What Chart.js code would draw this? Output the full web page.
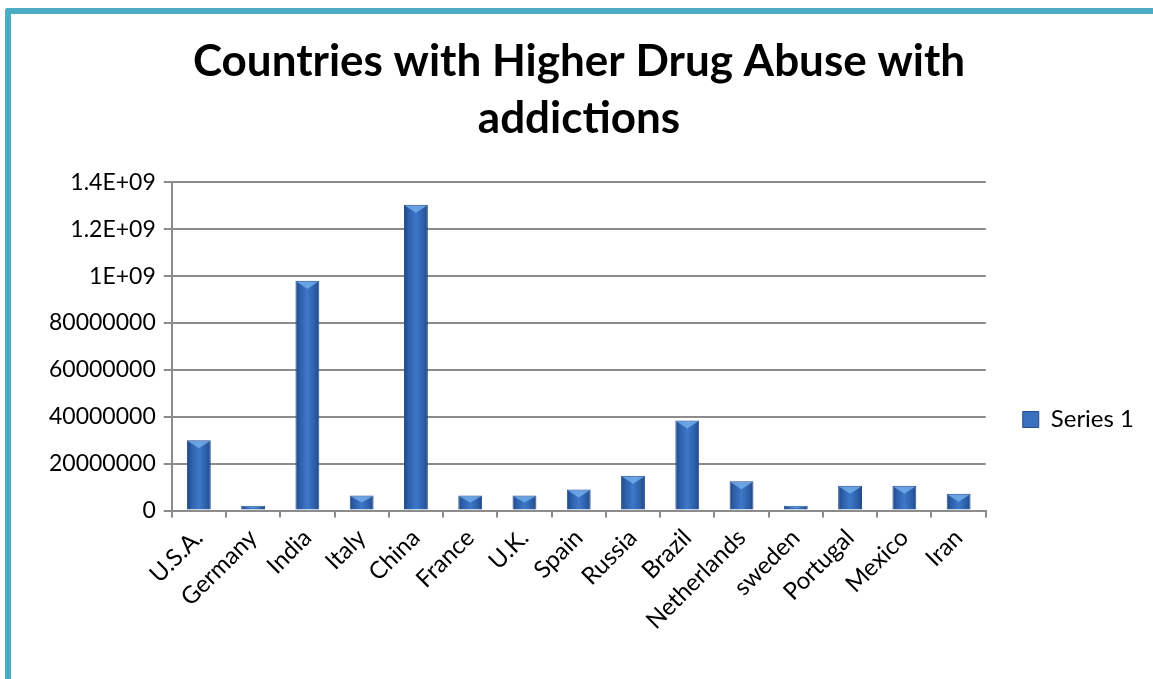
<!DOCTYPE html>
<html>
<head>
<meta charset="utf-8">
<script src="https://cdn.jsdelivr.net/npm/chart.js@4/dist/chart.umd.min.js"></script>
<style>
  html, body { margin: 0; padding: 0; background: #fff; overflow: hidden; }
  body { width: 1153px; height: 679px; position: relative; }
  #frameTop { position: absolute; left: 5px; top: 8px; width: 1148px; height: 6px; background: #4BACC6; border-top-left-radius: 3px; }
  #frameLeft { position: absolute; left: 5px; top: 8px; width: 6px; height: 671px; background: #4BACC6; border-top-left-radius: 3px; }
  #wrap { position: absolute; left: 11px; top: 14px; width: 1142px; height: 665px; }
</style>
</head>
<body>
<div id="frameTop"></div>
<div id="frameLeft"></div>
<div id="wrap"><canvas id="c" width="1142" height="665"></canvas></div>
<script>
const titleLines = ["Countries with Higher Drug Abuse with", "addictions"];
const categories = ["U.S.A.", "Germany", "India", "Italy", "China", "France", "U.K.", "Spain", "Russia", "Brazil", "Netherlands", "sweden", "Portugal", "Mexico", "Iran"];
const seriesName = "Series 1";
const seriesValues = [300000000, 21000000, 980000000, 64000000, 1305000000, 64000000, 64000000, 90000000, 149000000, 384000000, 125000000, 21000000, 106000000, 106000000, 72000000];
const yTickValues = [0, 200000000, 400000000, 600000000, 800000000, 1000000000, 1200000000, 1400000000];
const yTickLabels = ["0", "20000000", "40000000", "60000000", "80000000", "1E+09", "1.2E+09", "1.4E+09"];

const FONT = "Lato, 'Open Sans', sans-serif";

function barFill(ctx) {
  const el = ctx.element;
  const chart = ctx.chart;
  if (!el || el.width === undefined || isNaN(el.x) || !chart.ctx) return '#3A70BE';
  const g = chart.ctx.createLinearGradient(el.x - el.width / 2, 0, el.x + el.width / 2, 0);
  g.addColorStop(0, '#1F4683');
  g.addColorStop(0.18, '#2D5EA8');
  g.addColorStop(0.5, '#3D78C9');
  g.addColorStop(0.82, '#2D5EA8');
  g.addColorStop(1, '#1F4683');
  return g;
}

const topHighlight = {
  id: 'topHighlight',
  afterDatasetsDraw(chart) {
    const meta = chart.getDatasetMeta(0);
    const c = chart.ctx;
    c.save();
    meta.data.forEach(bar => {
      const h = bar.base - bar.y;
      if (h <= 2) return;
      const w = bar.width;
      const d = Math.min(8, h / 2);
      const l = bar.x - w / 2, r = bar.x + w / 2;
      c.fillStyle = 'rgba(120,180,240,0.75)';
      c.beginPath();
      c.moveTo(l + 1, bar.y + 1);
      c.lineTo(r - 1, bar.y + 1);
      c.lineTo(bar.x, bar.y + d);
      c.closePath();
      c.fill();
    });
    c.restore();
  }
};

// nudge the legend block to where the original places it
const legendShift = {
  id: 'legendShift',
  afterLayout(chart) {
    const lg = chart.legend;
    if (!lg) return;
    const dx = 27, dy = 92;
    lg.left += dx; lg.right += dx;
    lg.top += dy; lg.bottom += dy;
  }
};

const chart = new Chart(document.getElementById('c'), {
  type: 'bar',
  data: {
    labels: categories,
    datasets: [{
      label: seriesName,
      data: seriesValues,
      backgroundColor: barFill,
      borderColor: '#254E8C',
      borderWidth: 1,
      barPercentage: 0.44,
      categoryPercentage: 1.0
    }]
  },
  options: {
    responsive: false,
    animation: false,
    devicePixelRatio: 1,
    layout: { padding: { left: 30, right: 36, top: 0, bottom: 38 } },
    plugins: {
      title: {
        display: true,
        text: titleLines,
        color: '#000',
        font: { family: FONT, size: 44, weight: 'bold', lineHeight: 1.3 },
        padding: { top: 19, bottom: 35 }
      },
      legend: {
        display: true,
        position: 'right',
        labels: {
          color: '#000',
          font: { family: FONT, size: 24 },
          boxWidth: 16,
          boxHeight: 16,
          padding: 10,
          generateLabels(ch) {
            return [{ text: seriesName, fillStyle: '#3A70BE', strokeStyle: '#254E8C', lineWidth: 1, datasetIndex: 0, fontColor: '#000' }];
          }
        }
      },
      tooltip: { enabled: false }
    },
    scales: {
      x: {
        grid: { display: true, drawOnChartArea: false, drawTicks: true, tickLength: 7, color: '#8c8c8c', lineWidth: 2, offset: true },
        border: { display: true, color: '#8c8c8c', width: 2 },
        ticks: { color: '#000', font: { family: FONT, size: 24 }, minRotation: 45, maxRotation: 45, padding: 6 }
      },
      y: {
        min: 0,
        max: 1400000000,
        afterBuildTicks(scale) { scale.ticks = yTickValues.map(v => ({ value: v })); },
        grid: { color: '#8c8c8c', lineWidth: 2, tickLength: 8 },
        border: { display: true, color: '#8c8c8c', width: 2 },
        ticks: {
          color: '#000',
          font: { family: FONT, size: 23 },
          padding: 8,
          callback(value) {
            const i = yTickValues.indexOf(value);
            return i >= 0 ? yTickLabels[i] : '';
          }
        }
      }
    }
  },
  plugins: [topHighlight, legendShift]
});
chart.update('none');
</script>
</body>
</html>
